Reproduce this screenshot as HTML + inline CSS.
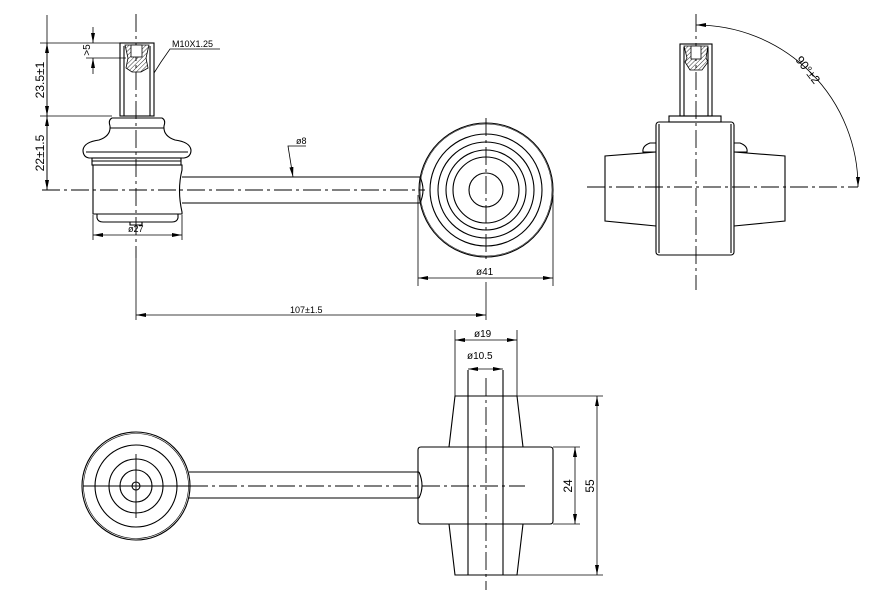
<!DOCTYPE html>
<html><head><meta charset="utf-8"><style>
html,body{margin:0;padding:0;background:#fff;}
svg{display:block}
text{font-family:"Liberation Sans",sans-serif;fill:#000}
</style></head><body>
<svg width="896" height="612" viewBox="0 0 896 612" xmlns="http://www.w3.org/2000/svg">
<defs>
<marker id="a" viewBox="0 0 10 4" refX="10" refY="2" markerWidth="10" markerHeight="4" orient="auto-start-reverse" markerUnits="userSpaceOnUse"><path d="M0,0 L10,2 L0,4z" fill="#000"/></marker>
<pattern id="h" width="3" height="3" patternUnits="userSpaceOnUse" patternTransform="rotate(45)"><line x1="0" y1="0" x2="0" y2="3" stroke="#000" stroke-width="0.8"/></pattern>
</defs>
<g fill="none" stroke="#000" stroke-width="1.1">
<!-- ===== TOP LEFT VIEW ===== -->
<g stroke-dasharray="18,4,3,4" stroke-width="0.9">
<line x1="136" y1="14" x2="136" y2="258"/>
<line x1="42" y1="190" x2="425" y2="190"/>
</g>
<!-- stud -->
<rect x="120" y="43" width="34" height="73"/>
<line x1="124" y1="46" x2="124" y2="116"/>
<line x1="150" y1="46" x2="150" y2="116"/>
<path d="M125,45 L149,45 L146,58 L148,68 L141,72 L132,72 L126,68 L128,58 Z" fill="url(#h)" stroke-width="0.8"/>
<rect x="131" y="45" width="11" height="12" fill="#fff" stroke-width="0.8"/>
<!-- housing -->
<path d="M112,118 L162,118 Q166,120 164,126 Q163,136 175,140 Q190,142 191,150 Q191,157 184,158 L89,158 Q83,157 83,150 Q84,142 99,140 Q111,136 110,126 Q108,120 112,118 Z"/>
<line x1="110" y1="128" x2="164" y2="128"/>
<line x1="86" y1="152" x2="188" y2="152"/>
<rect x="92" y="158" width="89" height="7"/>
<line x1="92" y1="161" x2="181" y2="161"/>
<path d="M93,165 L182,165 L182,170 Q177,190 182,212 L182,214 L93,214 Z"/>
<path d="M97,214 L97,218 Q98,222 103,222 L172,222 Q177,222 178,218 L178,214"/>
<path d="M130,222 L130,225 L142,225 L142,222"/>
<!-- rod -->
<line x1="182" y1="177" x2="420" y2="177"/>
<line x1="182" y1="203" x2="420" y2="203"/>
<path d="M420,177 Q426,190 420,203"/>
<!-- big circle -->
<circle cx="486" cy="190" r="67"/>
<circle cx="486" cy="190" r="66" stroke-width="0.5"/>
<circle cx="486" cy="190" r="56"/>
<circle cx="486" cy="190" r="48"/>
<circle cx="486" cy="190" r="40"/>
<circle cx="486" cy="190" r="33"/>
<circle cx="486" cy="190" r="17"/>
<line x1="486" y1="118" x2="486" y2="262" stroke-dasharray="18,4,3,4" stroke-width="0.9"/>
<!-- dims -->
<g stroke-width="0.8">
<line x1="40" y1="43" x2="122" y2="43"/>
<line x1="40" y1="116" x2="112" y2="116"/>
<line x1="47" y1="15" x2="47" y2="190"/>
<line x1="47" y1="43" x2="47" y2="116" marker-start="url(#a)" marker-end="url(#a)"/>
<line x1="47" y1="116" x2="47" y2="190" marker-start="url(#a)" marker-end="url(#a)"/>
<line x1="86" y1="58" x2="126" y2="58"/>
<line x1="93" y1="27" x2="93" y2="43" marker-end="url(#a)"/>
<line x1="93" y1="74" x2="93" y2="58" marker-end="url(#a)"/>
<line x1="93" y1="215" x2="93" y2="240"/>
<line x1="182" y1="215" x2="182" y2="240"/>
<line x1="93" y1="235" x2="182" y2="235" marker-start="url(#a)" marker-end="url(#a)"/>
<path d="M220,49 L170,49 L161,62 L154,73"/>
<path d="M306,146 L288,146 L293,177" marker-end="url(#a)"/>
<line x1="418" y1="195" x2="418" y2="286"/>
<line x1="553" y1="195" x2="553" y2="286"/>
<line x1="418" y1="278" x2="553" y2="278" marker-start="url(#a)" marker-end="url(#a)"/>
<line x1="136" y1="258" x2="136" y2="320"/>
<line x1="486" y1="282" x2="486" y2="320"/>
<line x1="136" y1="315" x2="486" y2="315" marker-start="url(#a)" marker-end="url(#a)"/>
</g>
<!-- ===== RIGHT VIEW ===== -->
<g stroke-dasharray="18,4,3,4" stroke-width="0.9">
<line x1="696" y1="14" x2="696" y2="290"/>
<line x1="587" y1="187" x2="858" y2="187"/>
</g>
<rect x="680" y="44" width="32" height="72"/>
<line x1="684" y1="47" x2="684" y2="116"/>
<line x1="708" y1="47" x2="708" y2="116"/>
<path d="M684,46 L708,46 L706,58 L708,62 L702,70 L690,70 L685,62 L687,58 Z" fill="url(#h)" stroke-width="0.8"/>
<rect x="691" y="46" width="10" height="13" fill="#fff" stroke-width="0.8"/>
<rect x="669" y="116" width="52" height="6"/>
<rect x="656" y="122" width="78" height="133" rx="3"/>
<line x1="659" y1="124" x2="659" y2="253"/>
<line x1="731" y1="124" x2="731" y2="253"/>
<path d="M656,152 L605,156 L605,221 L656,226"/>
<path d="M734,152 L785,156 L785,221 L734,226"/>
<path d="M656,152 L643,152 Q642,146 650,143 L656,143"/>
<path d="M734,152 L747,152 Q748,146 740,143 L734,143"/>
<path d="M696,25 A162,162 0 0 1 858,187" stroke-width="0.8" marker-start="url(#a)" marker-end="url(#a)"/>
<!-- ===== BOTTOM VIEW ===== -->
<circle cx="136" cy="486" r="54"/>
<circle cx="136" cy="486" r="52.5" stroke-width="0.6"/>
<circle cx="136" cy="486" r="41"/>
<circle cx="136" cy="486" r="27"/>
<circle cx="136" cy="486" r="16"/>
<circle cx="136" cy="486" r="4"/>
<line x1="83" y1="486" x2="190" y2="486" stroke-width="0.9"/>
<line x1="136" y1="454" x2="136" y2="518" stroke-width="0.9"/>
<line x1="190" y1="486" x2="525" y2="486" stroke-dasharray="18,4,3,4" stroke-width="0.9"/>
<line x1="189" y1="472" x2="419" y2="472"/>
<line x1="189" y1="498" x2="419" y2="498"/>
<path d="M419,472 Q425,486 419,498"/>
<path d="M418,450 Q418,447 421,447 L550,447 Q553,447 553,450 L553,521 Q553,524 550,524 L421,524 Q418,524 418,521 Z"/>
<path d="M449,447 L455,396 L517,396 L523,447"/>
<path d="M449,524 L455,575 L517,575 L523,524"/>
<line x1="468" y1="370" x2="468" y2="575"/>
<line x1="503" y1="370" x2="503" y2="575"/>
<line x1="486" y1="378" x2="486" y2="590" stroke-dasharray="18,4,3,4" stroke-width="0.9"/>
<g stroke-width="0.8">
<line x1="455" y1="330" x2="455" y2="396"/>
<line x1="517" y1="330" x2="517" y2="396"/>
<line x1="455" y1="340" x2="517" y2="340" marker-start="url(#a)" marker-end="url(#a)"/>
<line x1="468" y1="369" x2="503" y2="369" marker-start="url(#a)" marker-end="url(#a)"/>
<line x1="553" y1="447" x2="580" y2="447"/>
<line x1="553" y1="524" x2="580" y2="524"/>
<line x1="575" y1="447" x2="575" y2="524" marker-start="url(#a)" marker-end="url(#a)"/>
<line x1="517" y1="396" x2="603" y2="396"/>
<line x1="517" y1="575" x2="603" y2="575"/>
<line x1="597" y1="396" x2="597" y2="575" marker-start="url(#a)" marker-end="url(#a)"/>
</g>
</g>
<!-- texts -->
<g font-size="10">
<text x="172" y="47" font-size="9">M10X1.25</text>
<text x="296" y="144" font-size="9">ø8</text>
<text x="128" y="232" font-size="9">ø27</text>
<text x="476" y="275">ø41</text>
<text x="290" y="313" font-size="9">107±1.5</text>
<text x="474" y="337">ø19</text>
<text x="467" y="359">ø10.5</text>
<text transform="translate(44,80) rotate(-90)" text-anchor="middle" font-size="12">23.5±1</text>
<text transform="translate(44,153) rotate(-90)" text-anchor="middle" font-size="12">22±1.5</text>
<text transform="translate(90,50) rotate(-90)" text-anchor="middle">&gt;5</text>
<text transform="translate(572,486) rotate(-90)" text-anchor="middle" font-size="12">24</text>
<text transform="translate(594,486) rotate(-90)" text-anchor="middle" font-size="12">55</text>
<text transform="translate(795,60) rotate(52)" font-size="12">90°±2</text>
</g>
</svg>
</body></html>
